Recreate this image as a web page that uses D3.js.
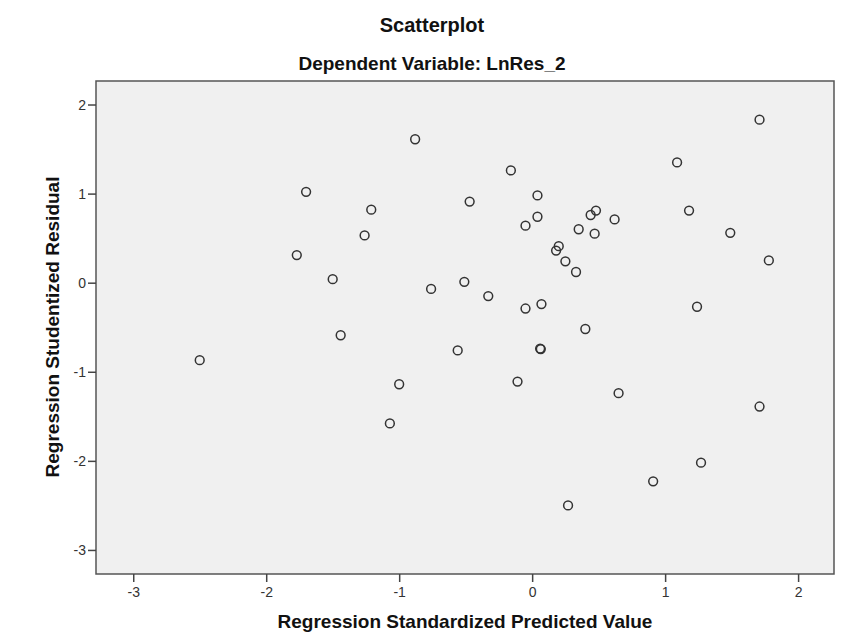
<!DOCTYPE html>
<html>
<head>
<meta charset="utf-8">
<script src="https://cdn.jsdelivr.net/npm/d3@7.8.5/dist/d3.min.js"></script>
<style>
  html, body { margin: 0; padding: 0; background: #fff; }
  svg { display: block; font-family: "Liberation Sans", Arial, sans-serif; }
</style>
</head>
<body>
<div id="chart"></div>
<script>
// standardized predicted value (x) and studentized residual (y)
const predicted = [
  -2.50, -1.70, -1.77, -1.50, -1.21, -1.26, -1.44, -0.88, -0.76, -1.00,
  -1.07, -0.47, -0.51, -0.56, -0.33, -0.16, 0.04, 0.04, -0.05, -0.05,
  0.07, 0.06, 0.065, -0.11, 0.18, 0.20, 0.25, 0.33, 0.35, 0.44,
  0.48, 0.47, 0.62, 0.40, 0.65, 0.27, 0.91, 1.09, 1.18, 1.24,
  1.27, 1.49, 1.71, 1.78, 1.71
];
const residual = [
  -0.87, 1.02, 0.31, 0.04, 0.82, 0.53, -0.59, 1.61, -0.07, -1.14,
  -1.58, 0.91, 0.01, -0.76, -0.15, 1.26, 0.98, 0.74, 0.64, -0.29,
  -0.24, -0.74, -0.745, -1.11, 0.36, 0.41, 0.24, 0.12, 0.60, 0.76,
  0.81, 0.55, 0.71, -0.52, -1.24, -2.50, -2.23, 1.35, 0.81, -0.27,
  -2.02, 0.56, 1.83, 0.25, -1.39
];
const xTicks = [-3, -2, -1, 0, 1, 2];
const yTicks = [-3, -2, -1, 0, 1, 2];

const title = "Scatterplot";
const subtitle = "Dependent Variable: LnRes_2";
const xLabel = "Regression Standardized Predicted Value";
const yLabel = "Regression Studentized Residual";

const width = 852;
const height = 634;
const margin = { top: 81, right: 18, bottom: 60, left: 96 };

const points = predicted.map((x, i) => ({ x, y: residual[i] }));

const svg = d3.select("#chart")
  .append("svg")
  .attr("width", width)
  .attr("height", height);

const xScale = d3.scaleLinear()
  .domain([-3.28, 2.27])
  .range([margin.left, width - margin.right]);

const yScale = d3.scaleLinear()
  .domain([-3.27, 2.264])
  .range([height - margin.bottom, margin.top]);

// plot background
svg.append("rect")
  .attr("x", margin.left)
  .attr("y", margin.top)
  .attr("width", width - margin.left - margin.right)
  .attr("height", height - margin.top - margin.bottom)
  .attr("fill", "#f0f0f0")
  .attr("stroke", "#555")
  .attr("stroke-width", 1.5);

// axes - plain hyphen for negatives like SPSS
const fmt = (d) => String(d);

svg.append("g")
  .attr("transform", `translate(0, ${height - margin.bottom})`)
  .call(d3.axisBottom(xScale).tickValues(xTicks).tickSize(8).tickPadding(5).tickFormat(fmt));

svg.append("g")
  .attr("transform", `translate(${margin.left}, 0)`)
  .call(d3.axisLeft(yScale).tickValues(yTicks).tickSize(8).tickPadding(2).tickFormat(fmt));

svg.selectAll(".domain").remove();
svg.selectAll(".tick line")
  .attr("stroke", "#444")
  .attr("stroke-width", 1.5);
svg.selectAll(".tick text")
  .style("font-size", "14px")
  .style("fill", "#333")
  .style("font-family", "'Liberation Sans', Arial, sans-serif");

// points
svg.append("g")
  .selectAll("circle")
  .data(points)
  .enter()
  .append("circle")
  .attr("cx", (d) => xScale(d.x))
  .attr("cy", (d) => yScale(d.y))
  .attr("r", 4.4)
  .attr("fill", "none")
  .attr("stroke", "#333")
  .attr("stroke-width", 1.5);

// titles
const addText = (x, y, size, str) =>
  svg.append("text")
    .attr("x", x)
    .attr("y", y)
    .attr("text-anchor", "middle")
    .style("font-size", size)
    .style("font-weight", "bold")
    .style("fill", "#111")
    .text(str);

addText(432, 32, "20px", title);
addText(432, 70, "19px", subtitle);
addText(465, 628, "19px", xLabel);

svg.append("text")
  .attr("transform", "translate(59, 327) rotate(-90)")
  .attr("text-anchor", "middle")
  .style("font-size", "19px")
  .style("font-weight", "bold")
  .style("fill", "#111")
  .text(yLabel);
</script>
</body>
</html>
